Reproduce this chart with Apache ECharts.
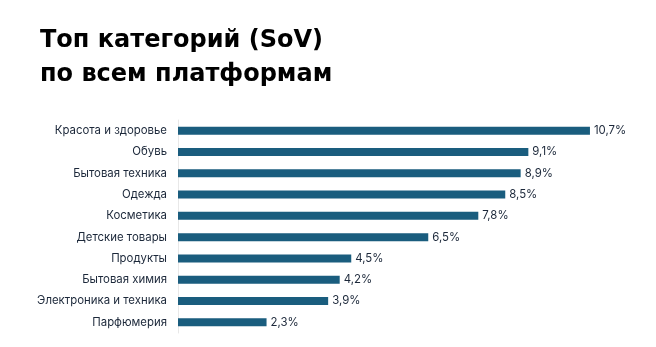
<!DOCTYPE html>
<html><head><meta charset="utf-8">
<script src="https://cdn.jsdelivr.net/npm/echarts@6/dist/echarts.min.js"></script>
<style>html,body{margin:0;padding:0;background:#fff}#c{width:656px;height:347px}</style>
</head><body><div id="c"></div>
<script>
var categories = ["Красота и здоровье","Обувь","Бытовая техника","Одежда","Косметика","Детские товары","Продукты","Бытовая химия","Электроника и техника","Парфюмерия"];
var values = [10.7, 9.1, 8.9, 8.5, 7.8, 6.5, 4.5, 4.2, 3.9, 2.3];
var titleText = "Топ категорий (SoV)\nпо всем платформам";

var chart = echarts.init(document.getElementById('c'));
chart.setOption({
  animation: false,
  backgroundColor: '#ffffff',
  title: {
    text: titleText, left: 35, top: 19,
    textStyle: { fontFamily: 'DejaVu Sans', fontWeight: 'bold', fontSize: 24, lineHeight: 34, color: '#000000' }
  },
  grid: { left: 178, right: 16, top: 120, bottom: 14 },
  xAxis: { type: 'value', min: 0, max: 12, show: false },
  yAxis: {
    type: 'category', data: categories, inverse: true,
    axisLine: { show: true, lineStyle: { color: '#e8e8e8', width: 1 } },
    axisTick: { show: false },
    axisLabel: { margin: 11, fontFamily: 'Inter', fontSize: 11.4, color: '#1c283a' }
  },
  series: [{
    type: 'bar', data: values, barWidth: 8,
    itemStyle: { color: '#1a5d7e' },
    label: {
      show: true, position: 'right', distance: 4,
      fontFamily: 'Inter', fontSize: 11.4, color: '#1c283a',
      formatter: function (p) { return p.value.toFixed(1).replace('.', ',') + '%'; }
    }
  }]
});
</script></body></html>
